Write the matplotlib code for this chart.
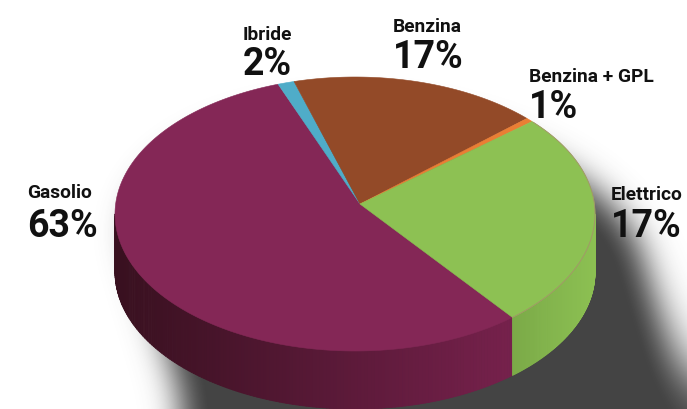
import numpy as np
import matplotlib
matplotlib.use("Agg")
import matplotlib.pyplot as plt
from matplotlib.collections import PolyCollection
from matplotlib.patches import Polygon

# ---------------- data ----------------
categories = ["Gasolio", "Ibride", "Benzina", "Benzina + GPL", "Elettrico"]
pct_labels = ["63%", "2%", "17%", "1%", "17%"]          # printed values
slice_shares = [56.2, 1.1, 16.8, 0.5, 25.4]             # slice sizes as drawn (share of the circle)
top_colors = ["#842756", "#4FACC8", "#934A28", "#EA7E34", "#8DC153"]
side_dark = {"Gasolio": "#38101F", "Elettrico": "#7CAB49"}
side_light = {"Gasolio": "#76214C", "Elettrico": "#8CC052"}

# label positions (pixel coords: x, baseline of name, baseline of value)
label_pos = [(27, 198, 237), (243, 40, 75), (393, 32, 68), (529, 82, 118), (611, 200, 237)]

# ---------------- geometry ----------------
W, H = 687, 410
cx, cy, rx, ry, depth = 355.0, 215.0, 240.0, 137.0, 58.0
apex = (360.0, 205.0)
start_angle = -49.0   # degrees, slices go clockwise

fig = plt.figure(figsize=(W / 100, H / 100), dpi=100)
ax = fig.add_axes([0, 0, 1, 1])
ax.set_xlim(0, W)
ax.set_ylim(H, 0)
ax.axis("off")

def rim(t_deg, dy=0.0):
    t = np.radians(t_deg)
    return cx + rx * np.cos(t), cy - ry * np.sin(t) + dy

# ---------------- shadow ----------------
yy, xx = np.mgrid[0:H, 0:W] + 0.5
sh_dx, sh_dy, sh_scale, sh_shear, sh_depth = 35.0, 40.0, 1.05, 0.3, 160.0
oy = yy - sh_dy
ox = cx + (xx - sh_dx - sh_shear * (oy - cy) - cx) / sh_scale
e_top = ((ox - cx) / rx) ** 2 + ((oy - cy) / ry) ** 2 <= 1
e_bot = ((ox - cx) / rx) ** 2 + ((oy - cy - sh_depth) / ry) ** 2 <= 1
band = (np.abs(ox - cx) <= rx) & (oy >= cy) & (oy <= cy + sh_depth)
mask = (e_top | e_bot | band).astype(float)

def gauss_mat(n, sigma):
    i = np.arange(n)
    K = np.exp(-0.5 * ((i[:, None] - i[None, :]) / sigma) ** 2)
    return K / K.sum(axis=1, keepdims=True)

sig = 16.0
blur = gauss_mat(H, sig) @ mask @ gauss_mat(W, sig).T
rgba = np.zeros((H, W, 4))
rgba[..., :3] = 0.27
rgba[..., 3] = np.clip(blur * 1.05, 0, 1)
ax.imshow(rgba, extent=(0, W, H, 0), zorder=0, interpolation="bilinear")

# ---------------- slices ----------------
total = float(sum(slice_shares))
angles = []
a = start_angle
for s in slice_shares:
    span = 360.0 * s / total
    angles.append((a - span, a))   # clockwise: from a going down
    a -= span

def hex2rgb(h):
    h = h.lstrip("#")
    return np.array([int(h[i:i + 2], 16) / 255 for i in (0, 2, 4)])

# sides (front half: 180..360 deg)
for name, (a0, a1) in zip(categories, angles):
    if name not in side_dark:
        continue
    lo, hi = a0, a1
    while hi < 180:
        lo += 360; hi += 360
    lo2, hi2 = max(lo, 180.0), min(hi, 360.0)
    if hi2 <= lo2:
        continue
    ts = np.linspace(lo2, hi2, 160)
    polys, cols = [], []
    xs_all = [rim(t)[0] for t in ts]
    xmin, xmax = min(xs_all), max(xs_all)
    c0, c1 = hex2rgb(side_dark[name]), hex2rgb(side_light[name])
    for t0, t1 in zip(ts[:-1], ts[1:]):
        x0, y0 = rim(t0)
        x1, y1 = rim(t1)
        polys.append([(x0, y0), (x1, y1), (x1, y1 + depth), (x0, y0 + depth)])
        f = ((x0 + x1) / 2 - xmin) / max(xmax - xmin, 1)
        cols.append(c0 + (c1 - c0) * f)
    pc = PolyCollection(polys, facecolors=cols, edgecolors=cols, linewidths=0.6, zorder=2)
    ax.add_collection(pc)

# top faces
for name, col, (a0, a1) in zip(categories, top_colors, angles):
    ts = np.linspace(a0, a1, max(int(abs(a1 - a0) * 2), 4))
    pts = [apex] + [rim(t) for t in ts]
    ax.add_patch(Polygon(pts, closed=True, facecolor=col, edgecolor=col, linewidth=0.4, zorder=3))

# faint rim line on the right side of the top face
ts = np.linspace(-49, 42, 120)
ax.plot([rim(t)[0] for t in ts], [rim(t)[1] for t in ts], color="#A5946A", lw=0.6, zorder=4)

# ---------------- labels ----------------
fam = ["Roboto", "DejaVu Sans"]
for name, pct, (lx, by1, by2) in zip(categories, pct_labels, label_pos):
    ax.text(lx, by1, name, family=fam, weight="bold", fontsize=13.8, color="#111111",
            ha="left", va="baseline", zorder=5)
    ax.text(lx, by2, pct, family=fam, weight="bold", fontsize=27, color="#111111",
            ha="left", va="baseline", zorder=5)

fig.savefig("out.png", dpi=100)
